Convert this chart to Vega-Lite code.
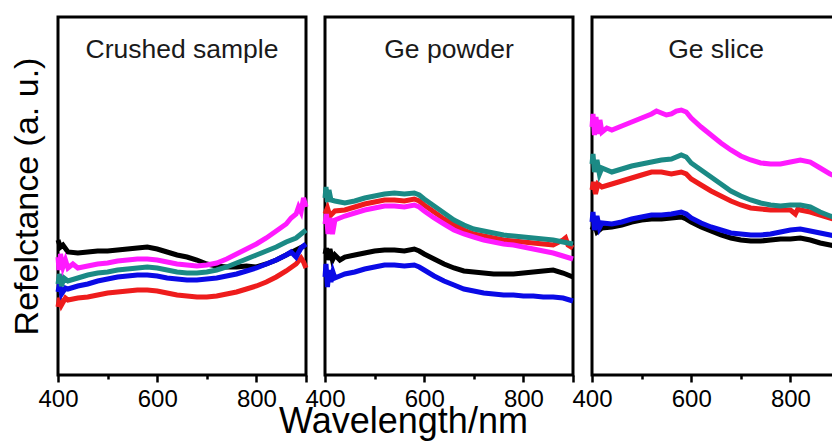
{
  "$schema": "https://vega.github.io/schema/vega-lite/v6.json",
  "padding": {"left": 8, "top": 15, "right": 0, "bottom": 0},
  "background": "white",
  "spacing": 19,
  "bounds": "flush",
  "config": {
    "font": "Liberation Sans",
    "view": {"stroke": "#000000", "strokeWidth": 3},
    "axis": {"grid": false, "domain": false, "labelColor": "#000000", "titleColor": "#000000", "tickColor": "#000000", "labelFont": "Liberation Sans", "titleFont": "Liberation Sans", "titleFontWeight": "normal"},
    "title": {"font": "Liberation Sans", "fontWeight": "normal", "fontSize": 26.5, "color": "#1a1a1a"}
  },
  "datasets": {
    "d": [
      {"p":"C","s":"k","w":400,"r":135},{"p":"C","s":"k","w":405,"r":128},{"p":"C","s":"k","w":410,"r":130},{"p":"C","s":"k","w":420,"r":123},{"p":"C","s":"k","w":440,"r":122},{"p":"C","s":"k","w":460,"r":123},{"p":"C","s":"k","w":480,"r":124},{"p":"C","s":"k","w":500,"r":124},{"p":"C","s":"k","w":520,"r":125},{"p":"C","s":"k","w":540,"r":126},{"p":"C","s":"k","w":560,"r":127},{"p":"C","s":"k","w":580,"r":128},{"p":"C","s":"k","w":600,"r":126},{"p":"C","s":"k","w":620,"r":123},{"p":"C","s":"k","w":640,"r":120},{"p":"C","s":"k","w":660,"r":118},{"p":"C","s":"k","w":680,"r":115},{"p":"C","s":"k","w":700,"r":111},{"p":"C","s":"k","w":720,"r":109},{"p":"C","s":"k","w":740,"r":108},{"p":"C","s":"k","w":760,"r":108},{"p":"C","s":"k","w":780,"r":109},{"p":"C","s":"k","w":800,"r":108},{"p":"C","s":"k","w":820,"r":111},{"p":"C","s":"k","w":840,"r":115},{"p":"C","s":"k","w":860,"r":120},{"p":"C","s":"k","w":880,"r":125},{"p":"C","s":"k","w":900,"r":130},
      {"p":"C","s":"r","w":400,"r":68},{"p":"C","s":"r","w":403,"r":77},{"p":"C","s":"r","w":407,"r":70},{"p":"C","s":"r","w":415,"r":77},{"p":"C","s":"r","w":420,"r":75},{"p":"C","s":"r","w":440,"r":77},{"p":"C","s":"r","w":460,"r":78},{"p":"C","s":"r","w":480,"r":80},{"p":"C","s":"r","w":500,"r":82},{"p":"C","s":"r","w":520,"r":83},{"p":"C","s":"r","w":540,"r":84},{"p":"C","s":"r","w":560,"r":85},{"p":"C","s":"r","w":580,"r":85},{"p":"C","s":"r","w":600,"r":84},{"p":"C","s":"r","w":620,"r":82},{"p":"C","s":"r","w":640,"r":80},{"p":"C","s":"r","w":660,"r":79},{"p":"C","s":"r","w":680,"r":78},{"p":"C","s":"r","w":700,"r":78},{"p":"C","s":"r","w":720,"r":79},{"p":"C","s":"r","w":740,"r":81},{"p":"C","s":"r","w":760,"r":83},{"p":"C","s":"r","w":780,"r":86},{"p":"C","s":"r","w":800,"r":89},{"p":"C","s":"r","w":820,"r":93},{"p":"C","s":"r","w":840,"r":98},{"p":"C","s":"r","w":860,"r":104},{"p":"C","s":"r","w":880,"r":111},{"p":"C","s":"r","w":890,"r":117},{"p":"C","s":"r","w":895,"r":113},{"p":"C","s":"r","w":900,"r":107},
      {"p":"C","s":"b","w":400,"r":83},{"p":"C","s":"b","w":403,"r":91},{"p":"C","s":"b","w":407,"r":81},{"p":"C","s":"b","w":415,"r":87},{"p":"C","s":"b","w":420,"r":86},{"p":"C","s":"b","w":440,"r":89},{"p":"C","s":"b","w":460,"r":91},{"p":"C","s":"b","w":480,"r":94},{"p":"C","s":"b","w":500,"r":96},{"p":"C","s":"b","w":520,"r":98},{"p":"C","s":"b","w":540,"r":99},{"p":"C","s":"b","w":560,"r":100},{"p":"C","s":"b","w":580,"r":100},{"p":"C","s":"b","w":600,"r":99},{"p":"C","s":"b","w":620,"r":97},{"p":"C","s":"b","w":640,"r":96},{"p":"C","s":"b","w":660,"r":95},{"p":"C","s":"b","w":680,"r":95},{"p":"C","s":"b","w":700,"r":96},{"p":"C","s":"b","w":720,"r":97},{"p":"C","s":"b","w":740,"r":99},{"p":"C","s":"b","w":760,"r":101},{"p":"C","s":"b","w":780,"r":104},{"p":"C","s":"b","w":800,"r":107},{"p":"C","s":"b","w":820,"r":111},{"p":"C","s":"b","w":840,"r":115},{"p":"C","s":"b","w":860,"r":120},{"p":"C","s":"b","w":870,"r":123},{"p":"C","s":"b","w":880,"r":118},{"p":"C","s":"b","w":890,"r":127},{"p":"C","s":"b","w":900,"r":131},
      {"p":"C","s":"t","w":400,"r":91},{"p":"C","s":"t","w":403,"r":101},{"p":"C","s":"t","w":407,"r":89},{"p":"C","s":"t","w":412,"r":97},{"p":"C","s":"t","w":420,"r":94},{"p":"C","s":"t","w":440,"r":97},{"p":"C","s":"t","w":460,"r":100},{"p":"C","s":"t","w":480,"r":102},{"p":"C","s":"t","w":500,"r":103},{"p":"C","s":"t","w":520,"r":105},{"p":"C","s":"t","w":540,"r":106},{"p":"C","s":"t","w":560,"r":107},{"p":"C","s":"t","w":580,"r":108},{"p":"C","s":"t","w":600,"r":107},{"p":"C","s":"t","w":620,"r":105},{"p":"C","s":"t","w":640,"r":103},{"p":"C","s":"t","w":660,"r":102},{"p":"C","s":"t","w":680,"r":102},{"p":"C","s":"t","w":700,"r":103},{"p":"C","s":"t","w":720,"r":105},{"p":"C","s":"t","w":740,"r":108},{"p":"C","s":"t","w":760,"r":112},{"p":"C","s":"t","w":780,"r":116},{"p":"C","s":"t","w":800,"r":120},{"p":"C","s":"t","w":820,"r":124},{"p":"C","s":"t","w":840,"r":128},{"p":"C","s":"t","w":860,"r":133},{"p":"C","s":"t","w":880,"r":137},{"p":"C","s":"t","w":890,"r":141},{"p":"C","s":"t","w":900,"r":145},
      {"p":"C","s":"m","w":400,"r":118},{"p":"C","s":"m","w":402,"r":105},{"p":"C","s":"m","w":405,"r":121},{"p":"C","s":"m","w":410,"r":108},{"p":"C","s":"m","w":415,"r":115},{"p":"C","s":"m","w":420,"r":107},{"p":"C","s":"m","w":430,"r":111},{"p":"C","s":"m","w":440,"r":107},{"p":"C","s":"m","w":460,"r":109},{"p":"C","s":"m","w":480,"r":111},{"p":"C","s":"m","w":500,"r":112},{"p":"C","s":"m","w":520,"r":114},{"p":"C","s":"m","w":540,"r":115},{"p":"C","s":"m","w":560,"r":116},{"p":"C","s":"m","w":580,"r":116},{"p":"C","s":"m","w":600,"r":115},{"p":"C","s":"m","w":620,"r":113},{"p":"C","s":"m","w":640,"r":111},{"p":"C","s":"m","w":660,"r":110},{"p":"C","s":"m","w":680,"r":109},{"p":"C","s":"m","w":700,"r":110},{"p":"C","s":"m","w":720,"r":112},{"p":"C","s":"m","w":740,"r":116},{"p":"C","s":"m","w":760,"r":121},{"p":"C","s":"m","w":780,"r":126},{"p":"C","s":"m","w":800,"r":131},{"p":"C","s":"m","w":820,"r":137},{"p":"C","s":"m","w":840,"r":144},{"p":"C","s":"m","w":860,"r":151},{"p":"C","s":"m","w":870,"r":157},{"p":"C","s":"m","w":880,"r":161},{"p":"C","s":"m","w":885,"r":168},{"p":"C","s":"m","w":890,"r":163},{"p":"C","s":"m","w":895,"r":177},{"p":"C","s":"m","w":900,"r":168},

      {"p":"P","s":"k","w":400,"r":121},{"p":"P","s":"k","w":403,"r":127},{"p":"P","s":"k","w":406,"r":115},{"p":"P","s":"k","w":410,"r":126},{"p":"P","s":"k","w":415,"r":115},{"p":"P","s":"k","w":420,"r":120},{"p":"P","s":"k","w":430,"r":115},{"p":"P","s":"k","w":440,"r":118},{"p":"P","s":"k","w":460,"r":120},{"p":"P","s":"k","w":480,"r":122},{"p":"P","s":"k","w":500,"r":124},{"p":"P","s":"k","w":520,"r":125},{"p":"P","s":"k","w":540,"r":125},{"p":"P","s":"k","w":560,"r":124},{"p":"P","s":"k","w":580,"r":126},{"p":"P","s":"k","w":590,"r":124},{"p":"P","s":"k","w":600,"r":121},{"p":"P","s":"k","w":620,"r":116},{"p":"P","s":"k","w":640,"r":111},{"p":"P","s":"k","w":660,"r":107},{"p":"P","s":"k","w":680,"r":104},{"p":"P","s":"k","w":700,"r":103},{"p":"P","s":"k","w":720,"r":102},{"p":"P","s":"k","w":740,"r":101},{"p":"P","s":"k","w":760,"r":101},{"p":"P","s":"k","w":780,"r":101},{"p":"P","s":"k","w":800,"r":102},{"p":"P","s":"k","w":820,"r":103},{"p":"P","s":"k","w":840,"r":104},{"p":"P","s":"k","w":860,"r":105},{"p":"P","s":"k","w":880,"r":102},{"p":"P","s":"k","w":900,"r":98},
      {"p":"P","s":"r","w":400,"r":161},{"p":"P","s":"r","w":405,"r":167},{"p":"P","s":"r","w":410,"r":159},{"p":"P","s":"r","w":420,"r":164},{"p":"P","s":"r","w":440,"r":165},{"p":"P","s":"r","w":460,"r":168},{"p":"P","s":"r","w":480,"r":171},{"p":"P","s":"r","w":500,"r":173},{"p":"P","s":"r","w":520,"r":175},{"p":"P","s":"r","w":540,"r":175},{"p":"P","s":"r","w":560,"r":174},{"p":"P","s":"r","w":580,"r":176},{"p":"P","s":"r","w":590,"r":174},{"p":"P","s":"r","w":600,"r":170},{"p":"P","s":"r","w":620,"r":163},{"p":"P","s":"r","w":640,"r":156},{"p":"P","s":"r","w":660,"r":150},{"p":"P","s":"r","w":680,"r":145},{"p":"P","s":"r","w":700,"r":141},{"p":"P","s":"r","w":720,"r":139},{"p":"P","s":"r","w":740,"r":137},{"p":"P","s":"r","w":760,"r":135},{"p":"P","s":"r","w":780,"r":134},{"p":"P","s":"r","w":800,"r":133},{"p":"P","s":"r","w":820,"r":132},{"p":"P","s":"r","w":840,"r":131},{"p":"P","s":"r","w":860,"r":130},{"p":"P","s":"r","w":880,"r":135},{"p":"P","s":"r","w":885,"r":137},{"p":"P","s":"r","w":890,"r":130},{"p":"P","s":"r","w":900,"r":127},
      {"p":"P","s":"b","w":400,"r":98},{"p":"P","s":"b","w":402,"r":111},{"p":"P","s":"b","w":405,"r":88},{"p":"P","s":"b","w":408,"r":105},{"p":"P","s":"b","w":412,"r":93},{"p":"P","s":"b","w":416,"r":103},{"p":"P","s":"b","w":420,"r":97},{"p":"P","s":"b","w":440,"r":101},{"p":"P","s":"b","w":460,"r":103},{"p":"P","s":"b","w":480,"r":106},{"p":"P","s":"b","w":500,"r":108},{"p":"P","s":"b","w":520,"r":110},{"p":"P","s":"b","w":540,"r":110},{"p":"P","s":"b","w":560,"r":109},{"p":"P","s":"b","w":580,"r":110},{"p":"P","s":"b","w":590,"r":108},{"p":"P","s":"b","w":600,"r":105},{"p":"P","s":"b","w":620,"r":99},{"p":"P","s":"b","w":640,"r":94},{"p":"P","s":"b","w":660,"r":90},{"p":"P","s":"b","w":680,"r":86},{"p":"P","s":"b","w":700,"r":84},{"p":"P","s":"b","w":720,"r":82},{"p":"P","s":"b","w":740,"r":81},{"p":"P","s":"b","w":760,"r":80},{"p":"P","s":"b","w":780,"r":80},{"p":"P","s":"b","w":800,"r":79},{"p":"P","s":"b","w":820,"r":79},{"p":"P","s":"b","w":840,"r":78},{"p":"P","s":"b","w":860,"r":78},{"p":"P","s":"b","w":880,"r":77},{"p":"P","s":"b","w":900,"r":74},
      {"p":"P","s":"m","w":400,"r":151},{"p":"P","s":"m","w":403,"r":161},{"p":"P","s":"m","w":406,"r":141},{"p":"P","s":"m","w":410,"r":157},{"p":"P","s":"m","w":415,"r":141},{"p":"P","s":"m","w":420,"r":155},{"p":"P","s":"m","w":440,"r":159},{"p":"P","s":"m","w":460,"r":162},{"p":"P","s":"m","w":480,"r":165},{"p":"P","s":"m","w":500,"r":167},{"p":"P","s":"m","w":520,"r":169},{"p":"P","s":"m","w":540,"r":169},{"p":"P","s":"m","w":560,"r":168},{"p":"P","s":"m","w":580,"r":170},{"p":"P","s":"m","w":590,"r":168},{"p":"P","s":"m","w":600,"r":164},{"p":"P","s":"m","w":620,"r":157},{"p":"P","s":"m","w":640,"r":151},{"p":"P","s":"m","w":660,"r":145},{"p":"P","s":"m","w":680,"r":141},{"p":"P","s":"m","w":700,"r":138},{"p":"P","s":"m","w":720,"r":135},{"p":"P","s":"m","w":740,"r":133},{"p":"P","s":"m","w":760,"r":131},{"p":"P","s":"m","w":780,"r":130},{"p":"P","s":"m","w":800,"r":128},{"p":"P","s":"m","w":820,"r":126},{"p":"P","s":"m","w":840,"r":124},{"p":"P","s":"m","w":860,"r":122},{"p":"P","s":"m","w":880,"r":119},{"p":"P","s":"m","w":900,"r":116},
      {"p":"P","s":"t","w":400,"r":177},{"p":"P","s":"t","w":402,"r":188},{"p":"P","s":"t","w":405,"r":173},{"p":"P","s":"t","w":408,"r":185},{"p":"P","s":"t","w":412,"r":175},{"p":"P","s":"t","w":420,"r":174},{"p":"P","s":"t","w":440,"r":172},{"p":"P","s":"t","w":460,"r":174},{"p":"P","s":"t","w":480,"r":177},{"p":"P","s":"t","w":500,"r":179},{"p":"P","s":"t","w":520,"r":181},{"p":"P","s":"t","w":540,"r":182},{"p":"P","s":"t","w":560,"r":181},{"p":"P","s":"t","w":580,"r":182},{"p":"P","s":"t","w":590,"r":180},{"p":"P","s":"t","w":600,"r":176},{"p":"P","s":"t","w":620,"r":169},{"p":"P","s":"t","w":640,"r":162},{"p":"P","s":"t","w":660,"r":155},{"p":"P","s":"t","w":680,"r":150},{"p":"P","s":"t","w":700,"r":146},{"p":"P","s":"t","w":720,"r":144},{"p":"P","s":"t","w":740,"r":142},{"p":"P","s":"t","w":760,"r":140},{"p":"P","s":"t","w":780,"r":139},{"p":"P","s":"t","w":800,"r":138},{"p":"P","s":"t","w":820,"r":137},{"p":"P","s":"t","w":840,"r":136},{"p":"P","s":"t","w":860,"r":135},{"p":"P","s":"t","w":880,"r":133},{"p":"P","s":"t","w":900,"r":131},

      {"p":"S","s":"k","w":400,"r":145},{"p":"S","s":"k","w":405,"r":151},{"p":"S","s":"k","w":410,"r":143},{"p":"S","s":"k","w":420,"r":147},{"p":"S","s":"k","w":440,"r":148},{"p":"S","s":"k","w":460,"r":150},{"p":"S","s":"k","w":480,"r":153},{"p":"S","s":"k","w":500,"r":155},{"p":"S","s":"k","w":520,"r":156},{"p":"S","s":"k","w":540,"r":156},{"p":"S","s":"k","w":560,"r":157},{"p":"S","s":"k","w":580,"r":158},{"p":"S","s":"k","w":590,"r":156},{"p":"S","s":"k","w":600,"r":153},{"p":"S","s":"k","w":620,"r":148},{"p":"S","s":"k","w":640,"r":144},{"p":"S","s":"k","w":660,"r":140},{"p":"S","s":"k","w":680,"r":137},{"p":"S","s":"k","w":700,"r":135},{"p":"S","s":"k","w":720,"r":134},{"p":"S","s":"k","w":740,"r":134},{"p":"S","s":"k","w":760,"r":135},{"p":"S","s":"k","w":780,"r":136},{"p":"S","s":"k","w":800,"r":136},{"p":"S","s":"k","w":820,"r":137},{"p":"S","s":"k","w":840,"r":135},{"p":"S","s":"k","w":860,"r":132},{"p":"S","s":"k","w":880,"r":130},{"p":"S","s":"k","w":900,"r":128},
      {"p":"S","s":"r","w":400,"r":185},{"p":"S","s":"r","w":403,"r":193},{"p":"S","s":"r","w":407,"r":181},{"p":"S","s":"r","w":412,"r":191},{"p":"S","s":"r","w":420,"r":188},{"p":"S","s":"r","w":440,"r":191},{"p":"S","s":"r","w":460,"r":194},{"p":"S","s":"r","w":480,"r":197},{"p":"S","s":"r","w":500,"r":200},{"p":"S","s":"r","w":520,"r":203},{"p":"S","s":"r","w":540,"r":203},{"p":"S","s":"r","w":560,"r":201},{"p":"S","s":"r","w":580,"r":203},{"p":"S","s":"r","w":590,"r":201},{"p":"S","s":"r","w":600,"r":196},{"p":"S","s":"r","w":620,"r":190},{"p":"S","s":"r","w":640,"r":184},{"p":"S","s":"r","w":660,"r":179},{"p":"S","s":"r","w":680,"r":174},{"p":"S","s":"r","w":700,"r":170},{"p":"S","s":"r","w":720,"r":167},{"p":"S","s":"r","w":740,"r":166},{"p":"S","s":"r","w":760,"r":165},{"p":"S","s":"r","w":780,"r":165},{"p":"S","s":"r","w":800,"r":165},{"p":"S","s":"r","w":810,"r":161},{"p":"S","s":"r","w":815,"r":166},{"p":"S","s":"r","w":820,"r":165},{"p":"S","s":"r","w":840,"r":163},{"p":"S","s":"r","w":860,"r":160},{"p":"S","s":"r","w":880,"r":157},{"p":"S","s":"r","w":900,"r":154},
      {"p":"S","s":"b","w":400,"r":153},{"p":"S","s":"b","w":402,"r":163},{"p":"S","s":"b","w":405,"r":145},{"p":"S","s":"b","w":410,"r":159},{"p":"S","s":"b","w":415,"r":147},{"p":"S","s":"b","w":420,"r":152},{"p":"S","s":"b","w":440,"r":151},{"p":"S","s":"b","w":460,"r":153},{"p":"S","s":"b","w":480,"r":156},{"p":"S","s":"b","w":500,"r":158},{"p":"S","s":"b","w":520,"r":160},{"p":"S","s":"b","w":540,"r":160},{"p":"S","s":"b","w":560,"r":161},{"p":"S","s":"b","w":580,"r":163},{"p":"S","s":"b","w":590,"r":161},{"p":"S","s":"b","w":600,"r":157},{"p":"S","s":"b","w":620,"r":152},{"p":"S","s":"b","w":640,"r":148},{"p":"S","s":"b","w":660,"r":145},{"p":"S","s":"b","w":680,"r":142},{"p":"S","s":"b","w":700,"r":141},{"p":"S","s":"b","w":720,"r":140},{"p":"S","s":"b","w":740,"r":140},{"p":"S","s":"b","w":760,"r":141},{"p":"S","s":"b","w":780,"r":143},{"p":"S","s":"b","w":800,"r":145},{"p":"S","s":"b","w":820,"r":146},{"p":"S","s":"b","w":840,"r":144},{"p":"S","s":"b","w":860,"r":142},{"p":"S","s":"b","w":880,"r":140},{"p":"S","s":"b","w":900,"r":138},
      {"p":"S","s":"m","w":400,"r":248},{"p":"S","s":"m","w":402,"r":261},{"p":"S","s":"m","w":405,"r":240},{"p":"S","s":"m","w":408,"r":258},{"p":"S","s":"m","w":412,"r":241},{"p":"S","s":"m","w":416,"r":255},{"p":"S","s":"m","w":420,"r":243},{"p":"S","s":"m","w":430,"r":247},{"p":"S","s":"m","w":440,"r":245},{"p":"S","s":"m","w":460,"r":249},{"p":"S","s":"m","w":480,"r":253},{"p":"S","s":"m","w":500,"r":257},{"p":"S","s":"m","w":520,"r":261},{"p":"S","s":"m","w":530,"r":264},{"p":"S","s":"m","w":540,"r":262},{"p":"S","s":"m","w":550,"r":260},{"p":"S","s":"m","w":560,"r":261},{"p":"S","s":"m","w":570,"r":264},{"p":"S","s":"m","w":580,"r":265},{"p":"S","s":"m","w":590,"r":263},{"p":"S","s":"m","w":600,"r":257},{"p":"S","s":"m","w":620,"r":248},{"p":"S","s":"m","w":640,"r":240},{"p":"S","s":"m","w":660,"r":232},{"p":"S","s":"m","w":680,"r":225},{"p":"S","s":"m","w":700,"r":219},{"p":"S","s":"m","w":720,"r":215},{"p":"S","s":"m","w":740,"r":212},{"p":"S","s":"m","w":760,"r":211},{"p":"S","s":"m","w":780,"r":211},{"p":"S","s":"m","w":800,"r":213},{"p":"S","s":"m","w":820,"r":215},{"p":"S","s":"m","w":840,"r":213},{"p":"S","s":"m","w":860,"r":207},{"p":"S","s":"m","w":880,"r":201},{"p":"S","s":"m","w":900,"r":197},
      {"p":"S","s":"t","w":400,"r":211},{"p":"S","s":"t","w":402,"r":221},{"p":"S","s":"t","w":405,"r":203},{"p":"S","s":"t","w":410,"r":215},{"p":"S","s":"t","w":415,"r":201},{"p":"S","s":"t","w":420,"r":207},{"p":"S","s":"t","w":440,"r":203},{"p":"S","s":"t","w":460,"r":206},{"p":"S","s":"t","w":480,"r":209},{"p":"S","s":"t","w":500,"r":211},{"p":"S","s":"t","w":520,"r":213},{"p":"S","s":"t","w":540,"r":215},{"p":"S","s":"t","w":560,"r":216},{"p":"S","s":"t","w":580,"r":220},{"p":"S","s":"t","w":590,"r":218},{"p":"S","s":"t","w":600,"r":212},{"p":"S","s":"t","w":620,"r":205},{"p":"S","s":"t","w":640,"r":198},{"p":"S","s":"t","w":660,"r":191},{"p":"S","s":"t","w":680,"r":184},{"p":"S","s":"t","w":700,"r":179},{"p":"S","s":"t","w":720,"r":175},{"p":"S","s":"t","w":740,"r":172},{"p":"S","s":"t","w":760,"r":170},{"p":"S","s":"t","w":780,"r":169},{"p":"S","s":"t","w":800,"r":170},{"p":"S","s":"t","w":820,"r":170},{"p":"S","s":"t","w":840,"r":168},{"p":"S","s":"t","w":860,"r":163},{"p":"S","s":"t","w":880,"r":159},{"p":"S","s":"t","w":900,"r":156}
    ]
  },
  "hconcat": [
    {
      "width": 248, "height": 358,
      "data": {"name": "d"},
      "transform": [{"filter": "datum.p === 'C'"}],
      "title": {"text": "Crushed sample", "frame": "group", "anchor": "middle", "offset": -67, "baseline": "alphabetic"},
      "mark": {"type": "line", "strokeWidth": 5},
      "encoding": {
        "x": {"field": "w", "type": "quantitative", "scale": {"domain": [400, 900], "nice": false, "zero": false},
              "axis": {"title": null, "values": [400, 500, 600, 700, 800, 900], "labelExpr": "datum.value == 400 || datum.value == 600 || datum.value == 800 ? datum.label : ''", "labelFontSize": 24, "labelPadding": 5, "labelOverlap": false, "labelFlush": false, "tickWidth": 2.5, "tickSize": {"condition": {"test": "datum.value == 500 || datum.value == 700", "value": 4}, "value": 7}}},
        "y": {"field": "r", "type": "quantitative", "scale": {"domain": [0, 358], "nice": false, "zero": false},
              "axis": {"title": "Refelctance (a. u.)", "titleFontSize": 34, "labels": false, "ticks": false, "titlePadding": 14}},
        "color": {"field": "s", "type": "nominal", "scale": {"domain": ["k", "r", "b", "m", "t"], "range": ["#000000", "#ee1c1c", "#0a0ae6", "#ff1aff", "#1b8a85"]}, "legend": null}
      }
    },
    {
      "width": 248, "height": 358,
      "data": {"name": "d"},
      "transform": [{"filter": "datum.p === 'P'"}],
      "title": {"text": "Ge powder", "frame": "group", "anchor": "middle", "offset": -67, "baseline": "alphabetic"},
      "mark": {"type": "line", "strokeWidth": 5},
      "encoding": {
        "x": {"field": "w", "type": "quantitative", "scale": {"domain": [400, 900], "nice": false, "zero": false},
              "axis": {"title": "Wavelength/nm", "titleFontSize": 36, "titleX": 78, "titleY": 57, "titleBaseline": "alphabetic", "titleAlign": "center", "values": [400, 500, 600, 700, 800, 900], "labelExpr": "datum.value == 400 || datum.value == 600 || datum.value == 800 ? datum.label : ''", "labelFontSize": 24, "labelPadding": 5, "labelOverlap": false, "labelFlush": false, "tickWidth": 2.5, "tickSize": {"condition": {"test": "datum.value == 500 || datum.value == 700", "value": 4}, "value": 7}}},
        "y": {"field": "r", "type": "quantitative", "scale": {"domain": [0, 358], "nice": false, "zero": false}, "axis": null},
        "color": {"field": "s", "type": "nominal", "scale": {"domain": ["k", "r", "b", "m", "t"], "range": ["#000000", "#ee1c1c", "#0a0ae6", "#ff1aff", "#1b8a85"]}, "legend": null}
      }
    },
    {
      "width": 248, "height": 358,
      "data": {"name": "d"},
      "transform": [{"filter": "datum.p === 'S'"}],
      "title": {"text": "Ge slice", "frame": "group", "anchor": "middle", "offset": -67, "baseline": "alphabetic"},
      "mark": {"type": "line", "strokeWidth": 5},
      "encoding": {
        "x": {"field": "w", "type": "quantitative", "scale": {"domain": [400, 900], "nice": false, "zero": false},
              "axis": {"title": null, "values": [400, 500, 600, 700, 800, 900], "labelExpr": "datum.value == 400 || datum.value == 600 || datum.value == 800 ? datum.label : ''", "labelFontSize": 24, "labelPadding": 5, "labelOverlap": false, "labelFlush": false, "tickWidth": 2.5, "tickSize": {"condition": {"test": "datum.value == 500 || datum.value == 700", "value": 4}, "value": 7}}},
        "y": {"field": "r", "type": "quantitative", "scale": {"domain": [0, 358], "nice": false, "zero": false}, "axis": null},
        "color": {"field": "s", "type": "nominal", "scale": {"domain": ["k", "r", "b", "m", "t"], "range": ["#000000", "#ee1c1c", "#0a0ae6", "#ff1aff", "#1b8a85"]}, "legend": null}
      }
    }
  ]
}
